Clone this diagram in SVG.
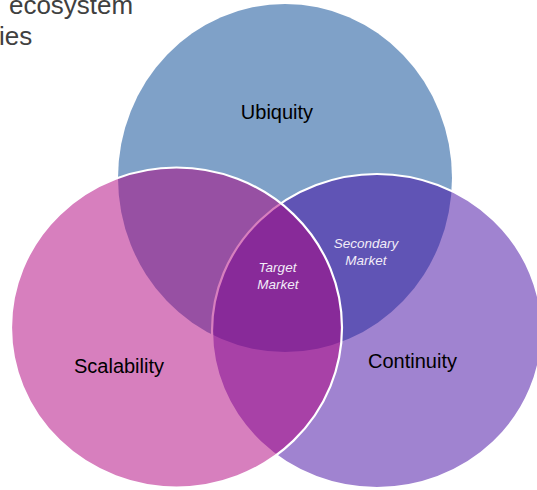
<svg xmlns="http://www.w3.org/2000/svg" width="537" height="490" viewBox="0 0 537 490">
<style>
.bg{fill:#ffffff}
.circ{stroke:#ffffff;stroke-width:2.2}
.lbl{font-family:"Liberation Sans",Arial,sans-serif;font-size:20px;fill:#000000;text-anchor:middle}
.sub{font-family:"Liberation Sans",Arial,sans-serif;font-size:13.5px;font-style:italic;fill:#F2ECF8;text-anchor:middle}
.hdr{font-family:"Liberation Sans",Arial,sans-serif;font-size:26px;fill:#404040}
</style>
<rect class="bg" x="0" y="0" width="537" height="490"/>
<g id="header">
<text class="hdr" x="9" y="14" textLength="124" lengthAdjust="spacingAndGlyphs">ecosystem</text>
<text class="hdr" x="-1" y="45">ies</text>
</g>
<g id="ubiquity">
<ellipse cx="285" cy="178" rx="167" ry="174" fill="#7FA1C8"/>
<text class="lbl" x="277" y="119">Ubiquity</text>
</g>
<g id="continuity">
<ellipse class="circ" cx="377" cy="331" rx="165" ry="157" fill="#4107A1" fill-opacity="0.5"/>
</g>
<g id="scalability">
<ellipse class="circ" cx="176.5" cy="327.5" rx="165.5" ry="160" fill="#AF007D" fill-opacity="0.5"/>
</g>
<g id="labels">
<text class="lbl" x="119" y="373">Scalability</text>
<text class="lbl" x="412.5" y="368">Continuity</text>
</g>
<g id="secondary-market">
<text class="sub" x="366" y="248">Secondary</text>
<text class="sub" x="366" y="264.5">Market</text>
</g>
<g id="target-market">
<text class="sub" x="277.5" y="272">Target</text>
<text class="sub" x="278" y="288.5">Market</text>
</g>
</svg>
